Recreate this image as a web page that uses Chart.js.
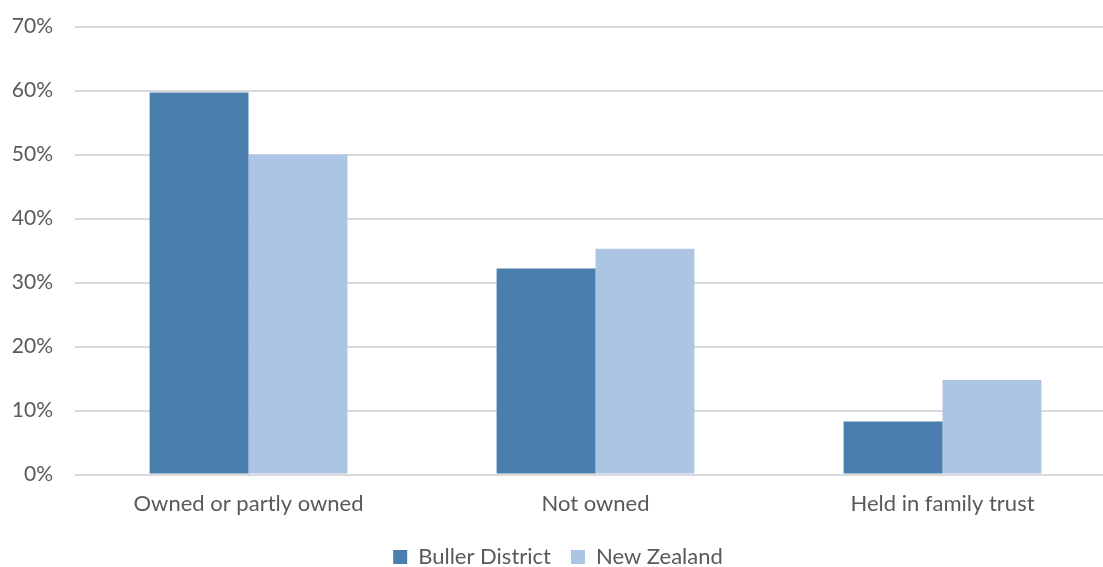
<!DOCTYPE html>
<html>
<head>
<meta charset="utf-8">
<script src="https://cdn.jsdelivr.net/npm/chart.js@4/dist/chart.umd.min.js"></script>
<style>
  html, body { margin: 0; padding: 0; background: #fff; overflow: hidden; }
  #wrap { position: absolute; left: 0; top: -8px; width: 1116px; height: 586px; }
</style>
</head>
<body>
<div id="wrap"><canvas id="chart"></canvas></div>
<script>
// tenure of household, share of households
const categories = ['Owned or partly owned', 'Not owned', 'Held in family trust'];
const bullerValues = [59.7, 32.2, 8.3];
const nzValues = [50.0, 35.3, 14.8];
const seriesNames = ['Buller District', 'New Zealand'];

const FONT = "Lato, 'Open Sans', sans-serif";
const GREY = '#595959';

new Chart(document.getElementById('chart'), {
  type: 'bar',
  data: {
    labels: categories,
    datasets: [
      { label: seriesNames[0], data: bullerValues, backgroundColor: '#4a7eae' },
      { label: seriesNames[1], data: nzValues, backgroundColor: '#adc5e5' },
    ],
  },
  options: {
    responsive: true,
    maintainAspectRatio: false,
    animation: false,
    layout: { padding: { top: 6, bottom: 0 } },
    datasets: { bar: { categoryPercentage: 0.57, barPercentage: 1.0 } },
    plugins: {
      tooltip: { enabled: false },
      legend: {
        position: 'bottom',
        labels: {
          color: GREY,
          font: { family: FONT, size: 22 },
          boxWidth: 14,
          boxHeight: 14,
          padding: 20,
        },
      },
    },
    scales: {
      x: {
        afterFit: (s) => { s.height += 1; },
        grid: { display: false },
        border: { display: false },
        ticks: { color: GREY, font: { family: FONT, size: 22 }, padding: 8 },
      },
      y: {
        min: 0,
        max: 70,
        afterFit: (s) => { s.width = 75; },
        border: { display: false },
        grid: { color: '#d9d9d9', lineWidth: 2, drawTicks: false },
        ticks: {
          stepSize: 10,
          padding: 22,
          color: GREY,
          font: { family: FONT, size: 21 },
          callback: (v) => v + '%',
        },
      },
    },
  },
});
</script>
</body>
</html>
